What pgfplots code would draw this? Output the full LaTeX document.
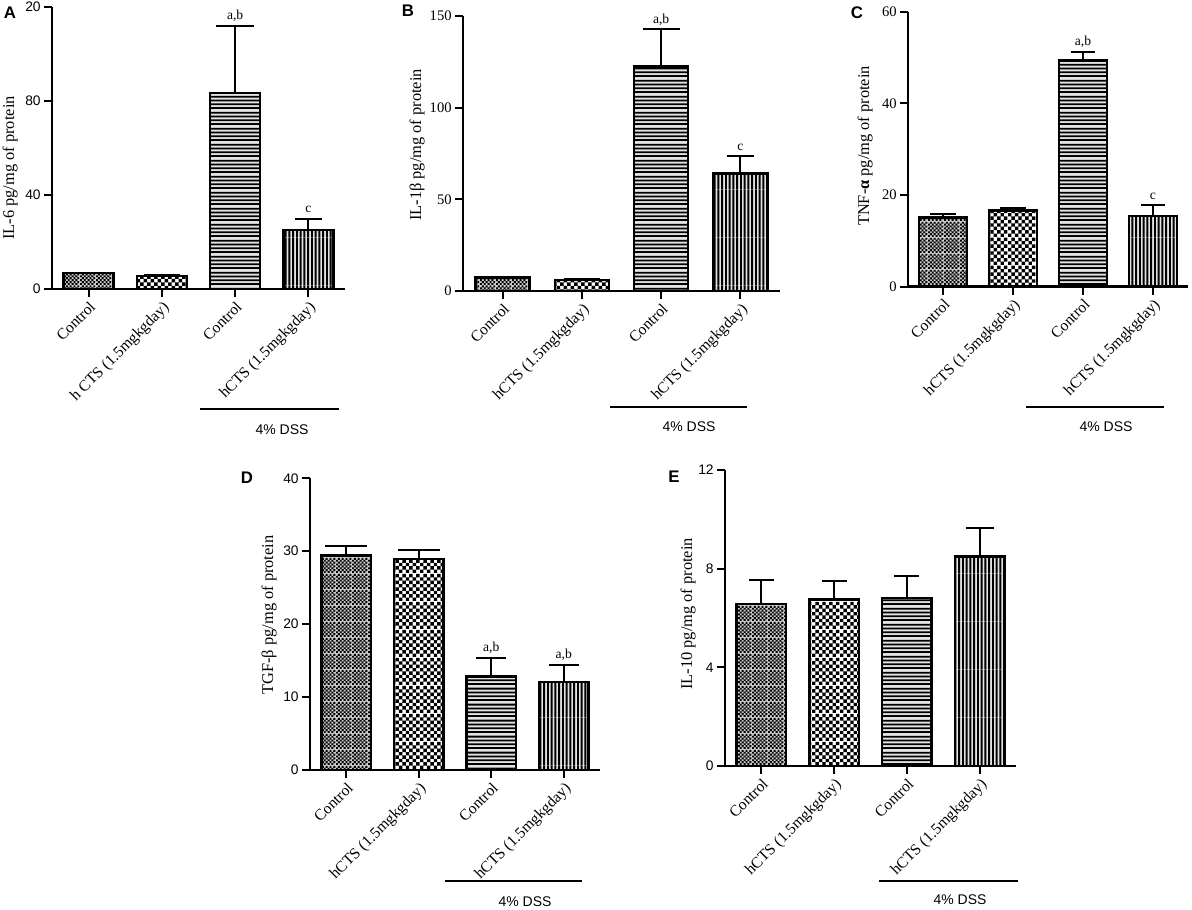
\documentclass[border=0pt]{standalone}
\usepackage{pgfplots}
\pgfplotsset{compat=1.18}
\usepackage{fontspec}
\setmainfont{Liberation Serif}
\newfontfamily\arial{Liberation Sans}
\usetikzlibrary{patterns}

\pgfdeclarepatternformonly{checkfine}{\pgfpointorigin}{\pgfqpoint{8pt}{8pt}}{\pgfqpoint{8pt}{8pt}}{%
 \foreach \i in {0,...,7}{\foreach \j in {0,...,7}{%
   \pgfmathparse{int(mod(\i+\j,2))}%
   \ifnum\pgfmathresult=0 \pgfpathrectangle{\pgfpoint{\i*1pt}{\j*1pt}}{\pgfqpoint{1pt}{1pt}}\fi}}%
 \pgfusepath{fill}}
\pgfdeclarepatternformonly{checkcoarse}{\pgfpointorigin}{\pgfqpoint{14pt}{14pt}}{\pgfqpoint{14pt}{14pt}}{%
 \foreach \i in {0,...,7}{\foreach \j in {0,...,7}{%
   \pgfmathparse{int(mod(\i+\j,2))}%
   \ifnum\pgfmathresult=0 \pgfpathrectangle{\pgfpoint{\i*1.75pt}{\j*1.75pt}}{\pgfqpoint{1.75pt}{1.75pt}}\fi}}%
 \pgfusepath{fill}}
\pgfdeclarepatternformonly{hl}{\pgfpointorigin}{\pgfqpoint{24pt}{8pt}}{\pgfqpoint{24pt}{8pt}}{%
 \pgfpathrectangle{\pgfqpoint{-0.2pt}{0pt}}{\pgfqpoint{24.4pt}{1pt}}%
 \pgfpathrectangle{\pgfqpoint{-0.2pt}{2pt}}{\pgfqpoint{24.4pt}{1pt}}%
 \pgfpathrectangle{\pgfqpoint{-0.2pt}{4pt}}{\pgfqpoint{24.4pt}{1pt}}%
 \pgfpathrectangle{\pgfqpoint{-0.2pt}{6pt}}{\pgfqpoint{24.4pt}{1pt}}%
 \pgfusepath{fill}}
\pgfdeclarepatternformonly{vl}{\pgfpointorigin}{\pgfqpoint{7.4pt}{24pt}}{\pgfqpoint{7.4pt}{24pt}}{%
 \pgfpathrectangle{\pgfqpoint{0pt}{-0.2pt}}{\pgfqpoint{0.95pt}{24.4pt}}%
 \pgfpathrectangle{\pgfqpoint{1.85pt}{-0.2pt}}{\pgfqpoint{0.95pt}{24.4pt}}%
 \pgfpathrectangle{\pgfqpoint{3.7pt}{-0.2pt}}{\pgfqpoint{0.95pt}{24.4pt}}%
 \pgfpathrectangle{\pgfqpoint{5.55pt}{-0.2pt}}{\pgfqpoint{0.95pt}{24.4pt}}%
 \pgfusepath{fill}}

\pgfplotsset{
 panel/.style={
  scale only axis, anchor=south west, clip=false,
  axis lines=left, axis line style={-, line width=1.2pt},
  xmin=-0.5, xmax=3.5, ymin=0, enlargelimits=false,
  xtick={0,1,2,3}, tick align=outside, major tick length=4pt,
  tick style={line width=1pt, black},
  xticklabel style={rotate=45, anchor=north east, font=\fontsize{7.8}{9}\selectfont, inner sep=1pt},
  yticklabel style={inner sep=1.5pt},
 },
 sansticks/.style={yticklabel style={font=\arial\fontsize{6.9}{8}\selectfont}},
 serifticks/.style={yticklabel style={font=\fontsize{7.3}{8.5}\selectfont}},
 cbar/.style={ybar, bar width=0.68, bar shift=0pt, draw=black, line width=1.25pt,
   error bars/y dir=plus, error bars/y explicit,
   error bars/error bar style={line width=1pt, black},
   error bars/error mark options={rotate=90, mark size=#1, line width=1pt, black}},
 cbar/.default=6.5pt,
 b1/.style={fill=gray!40, postaction={pattern=checkfine}},
 b2/.style={fill=white, postaction={pattern=checkcoarse}},
 b3/.style={fill=gray!22, postaction={pattern=hl}},
 b4/.style={fill=gray!22, postaction={pattern=vl}},
}
\tikzset{anno/.style={anchor=base, yshift=3pt, inner sep=0pt, font=\fontsize{6.8}{8}\selectfont},
 ylab/.style={rotate=90, anchor=center, font=\fontsize{8.2}{9.5}\selectfont},
 plet/.style={anchor=center, font=\arial\bfseries\fontsize{8.4}{9.5}\selectfont},
 dss/.style={anchor=center, font=\arial\fontsize{7}{8}\selectfont}}

\begin{document}
\begin{tikzpicture}
% ---------- A ----------
\begin{axis}[panel, sansticks, at={(26pt,310pt)}, width=146.5pt, height=141pt,
  ymax=120, ytick={0,40,80,120}, yticklabels={0,40,80,20},
  xticklabels={Control, h CTS (1.5mgkgday), Control, hCTS (1.5mgkgday)}]
\addplot[cbar=9pt, b1] coordinates {(0,6.7) +- (0,0.3)};
\addplot[cbar=9pt, b2] coordinates {(1,5.6) +- (0,0.2)};
\addplot[cbar=9.5pt, b3] coordinates {(2,83.3) +- (0,28.7)};
\addplot[cbar=6.8pt, b4] coordinates {(3,25.1) +- (0,4.8)};
\node[anno] at (axis cs:2,112) {a,b};
\node[anno] at (axis cs:3,29.9) {c};
\end{axis}
% ---------- B ----------
\begin{axis}[panel, serifticks, at={(231.5pt,309pt)}, width=158.5pt, height=137.5pt,
  ymax=150, ytick={0,50,100,150}, yticklabels={0,50,100,150},
  xticklabels={Control, hCTS (1.5mgkgday), Control, hCTS (1.5mgkgday)}]
\addplot[cbar=9pt, b1] coordinates {(0,7.3) +- (0,0.4)};
\addplot[cbar=9pt, b2] coordinates {(1,6.0) +- (0,0.3)};
\addplot[cbar=9.3pt, b3] coordinates {(2,122.4) +- (0,20.3)};
\addplot[cbar=6.8pt, b4] coordinates {(3,64.0) +- (0,9.5)};
\node[anno] at (axis cs:2,142.7) {a,b};
\node[anno] at (axis cs:3,73.5) {c};
\end{axis}
% ---------- C ----------
\begin{axis}[panel, serifticks, at={(454pt,311.15pt)}, width=140pt, height=137.5pt,
  ymax=60, ytick={0,20,40,60}, yticklabels={0,20,40,60},
  xticklabels={Control, hCTS (1.5mgkgday), Control, hCTS (1.5mgkgday)}]
\addplot[cbar=6.3pt, b1] coordinates {(0,15.1) +- (0,0.8)};
\addplot[cbar=6.3pt, b2] coordinates {(1,16.6) +- (0,0.6)};
\addplot[cbar=6.1pt, b3] coordinates {(2,49.4) +- (0,1.9)};
\addplot[cbar=6.1pt, b4] coordinates {(3,15.4) +- (0,2.4)};
\node[anno] at (axis cs:2,51.3) {a,b};
\node[anno] at (axis cs:3,17.8) {c};
\end{axis}
% ---------- D ----------
\begin{axis}[panel, sansticks, at={(155pt,69.5pt)}, width=145pt, height=145.85pt,
  ymax=40, ytick={0,10,20,30,40}, yticklabels={0,10,20,30,40},
  xticklabels={Control, hCTS (1.5mgkgday), Control, hCTS (1.5mgkgday)}]
\addplot[cbar=10.5pt, b1] coordinates {(0,29.4) +- (0,1.3)};
\addplot[cbar=10.5pt, b2] coordinates {(1,28.9) +- (0,1.3)};
\addplot[cbar=7.5pt, b3] coordinates {(2,12.8) +- (0,2.6)};
\addplot[cbar=7.5pt, b4] coordinates {(3,12.1) +- (0,2.3)};
\node[anno] at (axis cs:2,15.4) {a,b};
\node[anno] at (axis cs:3,14.4) {a,b};
\end{axis}
% ---------- E ----------
\begin{axis}[panel, sansticks, at={(362.5pt,71.5pt)}, width=145.5pt, height=148pt,
  ymax=12, ytick={0,4,8,12}, yticklabels={0,4,8,12},
  xticklabels={Control, hCTS (1.5mgkgday), Control, hCTS (1.5mgkgday)}]
\addplot[cbar=6.3pt, b1] coordinates {(0,6.57) +- (0,0.97)};
\addplot[cbar=6.3pt, b2] coordinates {(1,6.76) +- (0,0.73)};
\addplot[cbar=6.3pt, b3] coordinates {(2,6.81) +- (0,0.88)};
\addplot[cbar=7pt, b4] coordinates {(3,8.49) +- (0,1.14)};
\end{axis}
% ---------- labels ----------
\node[ylab] at (5pt,370.5pt) {IL-6 pg/mg of protein};
\node[ylab] at (208.5pt,382pt) {IL-1β pg/mg of protein};
\node[ylab] at (432.5pt,381.5pt) {TNF-\textbf{α} pg/mg of protein};
\node[ylab] at (134.5pt,147pt) {TGF-β pg/mg of protein};
\node[ylab] at (344pt,147.5pt) {IL-10 pg/mg of protein};
\node[plet] at (5pt,448pt) {A};
\node[plet] at (204pt,449pt) {B};
\node[plet] at (428.5pt,448pt) {C};
\node[plet] at (123.5pt,215.5pt) {D};
\node[plet] at (337pt,216pt) {E};
\draw[line width=1pt] (100pt,250pt) -- (169.5pt,250pt);
\draw[line width=1pt] (305pt,251pt) -- (373.5pt,251pt);
\draw[line width=1pt] (513pt,251pt) -- (582pt,251pt);
\draw[line width=1pt] (222.5pt,14.15pt) -- (291pt,14.15pt);
\draw[line width=1pt] (439.5pt,14.15pt) -- (508.85pt,14.15pt);
\node[dss] at (141pt,239.5pt) {4\% DSS};
\node[dss] at (344.5pt,241pt) {4\% DSS};
\node[dss] at (553pt,241pt) {4\% DSS};
\node[dss] at (262.5pt,3.65pt) {4\% DSS};
\node[dss] at (480pt,4.5pt) {4\% DSS};
\pgfresetboundingbox
\path (0,0) rectangle (596pt,454.5pt);
\end{tikzpicture}
\end{document}
